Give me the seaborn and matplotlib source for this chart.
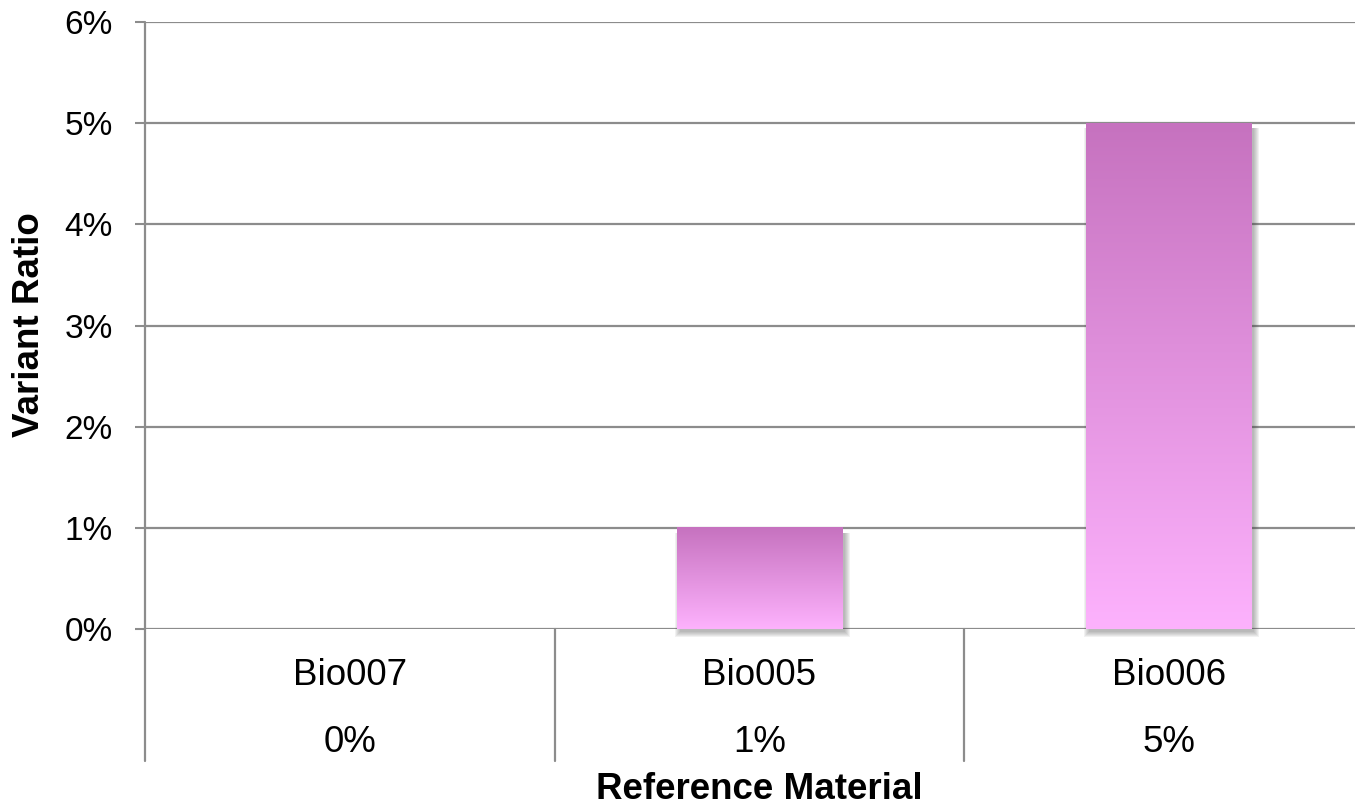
import matplotlib
matplotlib.use("Agg")
import matplotlib.pyplot as plt
import seaborn as sns
import numpy as np
import pandas as pd
from matplotlib.patches import Rectangle
from matplotlib.ticker import PercentFormatter
from matplotlib.colors import LinearSegmentedColormap

materials = ["Bio007", "Bio005", "Bio006"]
nominal = ["0%", "1%", "5%"]
variant_ratio = [0.0, 0.01, 0.05]
y_ticks = [0.0, 0.01, 0.02, 0.03, 0.04, 0.05, 0.06]

sns.set_theme(style="white")
plt.rcParams["font.family"] = ["Liberation Sans", "DejaVu Sans"]

df = pd.DataFrame({"material": materials, "ratio": variant_ratio})

fig = plt.figure(figsize=(13.55, 8.06), dpi=100)
W, H = 1355, 806
left, right, top, bottom = 145, 1373.5, 22, 629
ax = fig.add_axes([left / W, (H - bottom) / H, (right - left) / W, (bottom - top) / H])

sns.barplot(data=df, x="material", y="ratio", ax=ax, width=0.403, color="#d88ad6")
ax.set_xlim(-0.5, 2.5)
ax.set_ylim(0, 0.06)

for s in ax.spines.values():
    s.set_visible(False)

grid_col = "#8c8c8c"
for t in y_ticks:
    ax.axhline(t, color=grid_col, lw=1.6, zorder=0)
ax.set_yticks(y_ticks)
ax.yaxis.set_major_formatter(PercentFormatter(1.0, decimals=0))
ax.tick_params(axis="y", labelsize=24, labelcolor="black", length=7.2, width=1.5,
               color=grid_col, left=True, pad=15.8)
ax.tick_params(axis="x", bottom=False, labelbottom=False)
ax.set_xlabel("")
ax.set_ylabel("")

# pixel sizes in data units
px_x = 3 / (right - left)
px_y = 0.06 / (bottom - top)

# gradient fill with soft shadow
cmap = LinearSegmentedColormap.from_list("pink", ["#fdb2fd", "#c672bf"])
grad = np.linspace(0, 1, 256).reshape(-1, 1)
for p in ax.patches:
    x0, y0 = p.get_x(), p.get_y()
    w, h = p.get_width(), p.get_height()
    p.set_visible(False)
    if h <= 0:
        continue
    for k in range(6):
        ax.add_patch(Rectangle((x0 + 3 * px_x - k * px_x, y0 - 3 * px_y - k * px_y),
                               w + 2 * k * px_x, h - 2 * px_y + k * px_y,
                               color="#404040", alpha=0.07, lw=0, zorder=1.5, clip_on=False))
    ax.imshow(grad, extent=[x0, x0 + w, y0, y0 + h], origin="lower", cmap=cmap,
              aspect="auto", zorder=2)

ax.set_xlim(-0.5, 2.5)
ax.set_ylim(0, 0.06)

# axis line and category separators running below the plot
tr = ax.get_xaxis_transform()
low = -(761 - bottom) / (bottom - top)
for xs in [-0.5, 0.5, 1.5]:
    ax.plot([xs, xs], [0 if xs != -0.5 else 1, low], transform=tr, color=grid_col, lw=1.6,
            clip_on=False, zorder=3)

for i, (m, n) in enumerate(zip(materials, nominal)):
    ax.text(i, -(685 - bottom) / (bottom - top), m, transform=tr, ha="center", va="baseline",
            fontsize=26.5, color="black")
    ax.text(i, -(752 - bottom) / (bottom - top), n, transform=tr, ha="center", va="baseline",
            fontsize=26.5, color="black")

fig.text(759 / W, 1 - 799 / H, "Reference Material", ha="center", va="baseline",
         fontsize=26.5, fontweight="bold", color="black")
fig.text(30 / W, 1 - 325 / H, "Variant Ratio", ha="center", va="center",
         fontsize=26.5, fontweight="bold", rotation=90, color="black")

fig.savefig("out.png", dpi=100)
